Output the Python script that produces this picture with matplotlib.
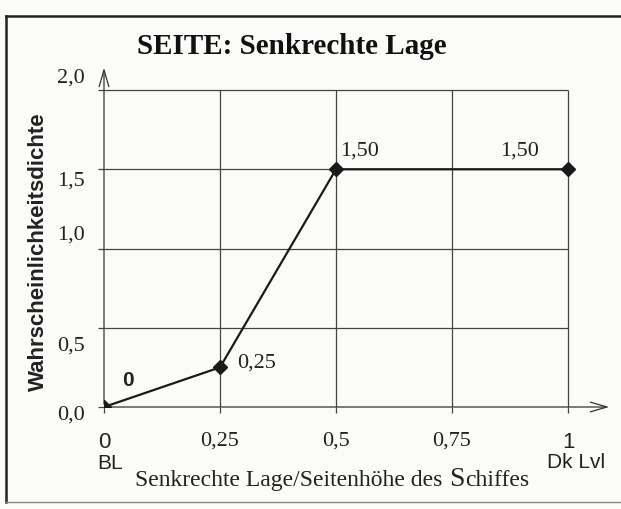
import matplotlib
matplotlib.use("Agg")
import matplotlib.pyplot as plt
from matplotlib.transforms import ScaledTranslation
from matplotlib.offsetbox import TextArea, HPacker, AnnotationBbox

# data: relative vertical position vs. probability density
lage    = [0.0, 0.25, 0.5, 1.0]
dichte  = [0.0, 0.25, 1.5, 1.5]
punkt_labels = ["0", "0,25", "1,50", "1,50"]

x_ticks  = [0, 0.25, 0.5, 0.75, 1]
x_labels = ["0", "0,25", "0,5", "0,75", "1"]
y_ticks  = [0, 0.5, 1.0, 1.5, 2.0]
y_labels = ["0,0", "0,5", "1,0", "1,5", "2,0"]

SERIF = "Liberation Serif"
SANS  = "Liberation Sans"
INK   = "#222222"

fig = plt.figure(figsize=(6.21, 5.10), dpi=100, facecolor="#fbfbf9")
ax = fig.add_axes([104 / 621, 0.2, 508 / 621, 342 / 510])
ax.set_facecolor("none")
ax.set_xlim(0, 508 / 464)
ax.set_ylim(0, 342 / 158.5)
for s in ax.spines.values():
    s.set_visible(False)

# grid (only up to 1.0 / 2.0)
ax.hlines(y_ticks[1:], 0, 1, color="#444444", lw=0.9)
ax.vlines(x_ticks[1:], 0, 2.0, color="#444444", lw=0.9)

# axes with open arrow heads
arrow = dict(arrowstyle="->,head_length=1.2,head_width=0.35", lw=0.9, color="#333333")
ax.annotate("", xy=(ax.get_xlim()[1], 0), xytext=(0, 0), arrowprops=arrow)
ax.annotate("", xy=(0, ax.get_ylim()[1]), xytext=(0, 0), arrowprops=arrow)

ax.plot(lage, dichte, color="#1a1a1a", lw=1.6, marker="D", ms=7, zorder=5)

# point labels
offsets = [(17, 20), (12, 4), (17, 14), (-35, 14)]
for i, (x, y, t) in enumerate(zip(lage, dichte, punkt_labels)):
    if i == 0:
        ax.annotate(t, (x, y), xytext=offsets[i], textcoords="offset points",
                    ha="center", va="center", fontsize=15, fontweight="bold",
                    family=SANS, color=INK)
    else:
        ax.annotate(t, (x, y), xytext=offsets[i], textcoords="offset points",
                    ha="left" if i == 1 else "center", va="center",
                    fontsize=16, family=SERIF, color=INK)

ax.set_xticks(x_ticks)
ax.set_xticklabels(x_labels)
ax.set_yticks(y_ticks)
ax.set_yticklabels(y_labels)
ax.tick_params(length=4, width=0.9, color="#444444", labelcolor=INK)
ax.tick_params(axis="x", pad=13)
ax.tick_params(axis="y", pad=10)
for lab in ax.get_xticklabels():
    lab.set_fontsize(16)
    lab.set_family(SANS if lab.get_text() in ("0", "1") else SERIF)
# the y labels sit a bit off their grid lines in the original
y_shift = [-5, -15, 17, -8, 15]
for lab, dy in zip(ax.get_yticklabels(), y_shift):
    lab.set_fontsize(16)
    lab.set_family(SERIF)
    lab.set_transform(lab.get_transform() + ScaledTranslation(0, dy / 100, fig.dpi_scale_trans))

fig.text(110 / 621, 1 - 464 / 510, "BL", family=SANS, fontsize=15,
         ha="center", va="center", color=INK)
fig.text(576 / 621, 1 - 463 / 510, "Dk Lvl", family=SANS, fontsize=15,
         ha="center", va="center", color=INK)

# x label, with the slightly oversized "S" of the original
serif_txt = dict(family=SERIF, size=17, color=INK)
word = HPacker(children=[TextArea("S", textprops=dict(serif_txt, size=20)),
                         TextArea("chiffes", textprops=serif_txt)],
               align="baseline", pad=0, sep=0)
xlab = HPacker(children=[TextArea("Senkrechte Lage/Seitenhöhe des", textprops=serif_txt), word],
               align="baseline", pad=0, sep=5)
fig.add_artist(AnnotationBbox(xlab, (332 / 621, 1 - 480 / 510), xycoords="figure fraction",
                              frameon=False, box_alignment=(0.5, 0.5)))

fig.text(38 / 621, 1 - 252 / 510, "Wahrscheinlichkeitsdichte", family=SANS,
         fontsize=16, fontweight="bold", rotation=90, ha="center", va="center",
         color=INK)
fig.text(292 / 621, 1 - 47 / 510, "SEITE: Senkrechte Lage", family=SERIF,
         fontsize=21, fontweight="bold", ha="center", va="center", color="#111111")

# scanned page frame
fig.add_artist(plt.Line2D([6 / 621, 6 / 621], [1 - 17 / 510, 1 - 503 / 510],
                          color="#222222", lw=1.8, transform=fig.transFigure))
fig.add_artist(plt.Line2D([6 / 621, 1], [1 - 17 / 510, 1 - 17 / 510],
                          color="#222222", lw=1.8, transform=fig.transFigure))
fig.add_artist(plt.Line2D([6 / 621, 1], [1 - 503 / 510, 1 - 503 / 510],
                          color="#888888", lw=1.0, transform=fig.transFigure))

fig.savefig("out.png", dpi=100, facecolor=fig.get_facecolor())
